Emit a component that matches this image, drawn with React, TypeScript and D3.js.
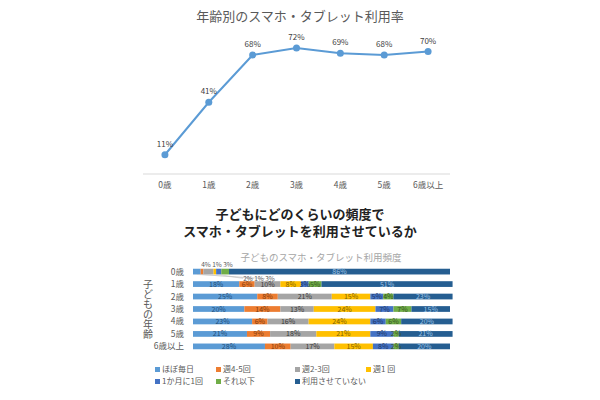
import * as d3 from "d3";

const ages = ["0歳", "1歳", "2歳", "3歳", "4歳", "5歳", "6歳以上"];
const usageRate = [11, 41, 68, 72, 69, 68, 70];

const freqKeys = ["ほぼ毎日", "週4-5回", "週2-3回", "週1回", "1か月に1回", "それ以下", "利用させていない"];
const legendLabels = ["ほぼ毎日", "週4-5回", "週2-3回", "週1 回", "1か月に1回", "それ以下", "利用させていない"];
const freqColors = ["#5b9bd5", "#ed7d31", "#a5a5a5", "#ffc000", "#4472c4", "#70ad47", "#255e91"];
const labelColors = ["#1f4e79", "#843c0c", "#3a3a3a", "#7f6000", "#1f3864", "#375623", "#9dc3e6"];

const freq0 = [3, 1, 4, 1, 2, 3, 86];
const freq1 = [18, 6, 10, 8, 3, 5, 51];
const freq2 = [25, 8, 21, 15, 5, 4, 23];
const freq3 = [20, 14, 13, 24, 7, 7, 15];
const freq4 = [23, 6, 16, 24, 6, 6, 20];
const freq5 = [21, 9, 18, 21, 9, 2, 21];
const freq6 = [28, 10, 17, 15, 8, 2, 20];
const freqRows = [freq0, freq1, freq2, freq3, freq4, freq5, freq6];

// 0歳 row: small segments labelled outside the bar
const aboveSegs = [2, 3, 5];
const belowSegs = [4, 1, 0];

const FONT = "'Noto Sans CJK JP', 'Noto Sans', sans-serif";

function LineChart() {
  const x = d3.scaleBand<string>().domain(ages).range([143, 450]);
  const y = d3.scaleLinear().domain([0, 80]).range([174, 34]);
  const cx = (a: string) => (x(a) ?? 0) + x.bandwidth() / 2;
  const line = d3
    .line<number>()
    .x((_, i) => cx(ages[i]))
    .y((d) => y(d));
  return (
    <g>
      <text x={300} y={21} textAnchor="middle" fontSize={13} fill="#595959">
        年齢別のスマホ・タブレット利用率
      </text>
      <line x1={143} x2={450} y1={y(0)} y2={y(0)} stroke="#d9d9d9" strokeWidth={1} />
      <path d={line(usageRate) ?? ""} fill="none" stroke="#5b9bd5" strokeWidth={2} />
      {usageRate.map((v, i) => (
        <g key={i}>
          <circle cx={cx(ages[i])} cy={y(v)} r={3.5} fill="#5b9bd5" />
          <text x={cx(ages[i])} y={y(v) - 8} textAnchor="middle" fontSize={8} fill="#404040">
            {v}%
          </text>
        </g>
      ))}
      {ages.map((a) => (
        <text key={a} x={cx(a)} y={188} textAnchor="middle" fontSize={8.5} fill="#595959">
          {a}
        </text>
      ))}
    </g>
  );
}

function BarChart() {
  const x = d3.scaleLinear().domain([0, 100]).range([193, 450]);
  const y = d3.scaleBand<string>().domain(ages).range([265, 353]).paddingInner(0.54).paddingOuter(0.3);
  const stacked = freqRows.map((row) => {
    let acc = 0;
    return row.map((v) => {
      const s = acc;
      acc += v;
      return [s, acc];
    });
  });
  const axisTitle = "子どもの年齢".split("");
  return (
    <g>
      <text x={300} y={219} textAnchor="middle" fontSize={13} fontWeight="bold" fill="#222">
        子どもにどのくらいの頻度で
      </text>
      <text x={300} y={236} textAnchor="middle" fontSize={13} fontWeight="bold" fill="#222">
        スマホ・タブレットを利用させているか
      </text>
      <text x={321} y={261} textAnchor="middle" fontSize={9.5} fill="#a6a6a6">
        子どものスマホ・タブレット利用頻度
      </text>
      {axisTitle.map((c, i) => (
        <text key={i} x={148} y={288 + i * 10} textAnchor="middle" fontSize={10} fill="#595959">
          {c}
        </text>
      ))}
      {ages.map((a, r) => {
        const by = y(a) ?? 0;
        const bh = y.bandwidth();
        return (
          <g key={a}>
            <text x={184} y={by + bh / 2 + 3} textAnchor="end" fontSize={8.5} fill="#595959">
              {a}
            </text>
            {stacked[r].map(([s, e], k) => (
              <rect key={k} x={x(s)} y={by} width={x(e) - x(s)} height={bh} fill={freqColors[k]} />
            ))}
            {stacked[r].map(([s, e], k) => {
              const v = freqRows[r][k];
              const mid = (x(s) + x(e)) / 2;
              if (r === 0 && k < 6) {
                const ai = aboveSegs.indexOf(k);
                if (ai >= 0) {
                  return (
                    <text key={"l" + k} x={206 + ai * 11} y={by - 2} textAnchor="middle" fontSize={6.5} fill="#595959">
                      {v}%
                    </text>
                  );
                }
                const bi = belowSegs.indexOf(k);
                const tx = 248 + bi * 11;
                return (
                  <g key={"l" + k}>
                    <line x1={mid} y1={by + bh} x2={tx - 5} y2={by + bh + 4} stroke="#bfbfbf" strokeWidth={0.5} />
                    <text x={tx} y={by + bh + 7} textAnchor="middle" fontSize={6.5} fill="#595959">
                      {v}%
                    </text>
                  </g>
                );
              }
              return (
                <text key={"l" + k} x={mid} y={by + bh / 2 + 2.5} textAnchor="middle" fontSize={7} fill={labelColors[k]}>
                  {v}%
                </text>
              );
            })}
          </g>
        );
      })}
      {legendLabels.map((l, i) => {
        const col = i < 4 ? i : i - 4;
        const row = i < 4 ? 0 : 1;
        const lx = [155, 216, 295, 366][col];
        const ly = 372 + row * 12;
        return (
          <g key={l}>
            <rect x={lx} y={ly - 5} width={5} height={5} fill={freqColors[i]} />
            <text x={lx + 7} y={ly} fontSize={8} fill="#595959">
              {l}
            </text>
          </g>
        );
      })}
    </g>
  );
}

export default function App() {
  return (
    <svg
      width={600}
      height={400}
      style={{ position: "absolute", left: 0, top: 0, background: "#fff", fontFamily: FONT }}
    >
      <rect width={600} height={400} fill="#fff" />
      <LineChart />
      <BarChart />
    </svg>
  );
}
